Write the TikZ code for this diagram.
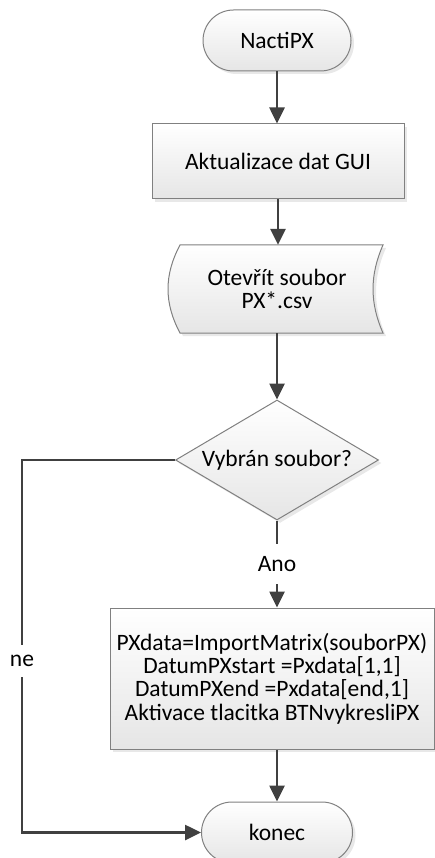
\documentclass[tikz,border=0pt]{standalone}
\usepackage{fontspec}
\setmainfont{Carlito}
\usetikzlibrary{shapes.geometric,shapes.misc,shadows,arrows.meta}
\begin{document}
\begin{tikzpicture}[x=1pt,y=-1pt,
  shp/.style={draw=black!50, line width=1pt, top color=white, bottom color=black!10,
    drop shadow={shadow xshift=3pt, shadow yshift=-3pt, fill=black!18}},
  txt/.style={font=\fontsize{23.5}{23.3}\selectfont, align=center, inner sep=0pt, text=black},
  term/.style={shp, txt, rounded rectangle, minimum width=148pt, minimum height=61pt},
  proc/.style={shp, txt, rectangle},
  dec/.style={shp, txt, diamond, aspect=1.69, minimum width=203pt, minimum height=120pt},
  flow/.style={draw=black!75, line width=2.6pt, -{Triangle[width=15pt,length=16pt]}},
  lbl/.style={fill=white, txt, inner xsep=2pt}
]
\useasboundingbox (0,0) rectangle (435,858);

\node[term] (start) at (277,40.5) {NactiPX};
\node[proc, minimum width=252pt, minimum height=75pt] (upd) at (278,161.5) {Aktualizace dat GUI};

\path[shp] (180,245) -- (383,245) .. controls (369.7,275) and (369.7,303) .. (383,333)
  -- (180,333) .. controls (164,303) and (164,275) .. (180,245) -- cycle;
\node[txt, minimum width=215pt, minimum height=88pt] (open) at (277,289) {Otevřít soubor\\PX*.csv};

\node[dec] (dec) at (277,460) {Vybrán soubor?};
\node[proc, minimum width=324pt, minimum height=141pt] (work) at (272,678.5)
  {PXdata=ImportMatrix(souborPX)\\DatumPXstart =Pxdata[1,1]\\DatumPXend =Pxdata[end,1]\\Aktivace tlacitka BTNvykresliPX};
\node[term, minimum width=151pt] (end) at (277,832.5) {konec};

\coordinate (nl) at (22,460);

\draw[flow] (start.south) -- (start.south |- upd.north);
\draw[flow] (upd.south) -- (upd.south |- open.north);
\draw[flow] (open.south) -- (dec.north);
\draw[flow] (dec.south) -- node[lbl, minimum height=40pt] {Ano} (dec.south |- work.north);
\draw[flow] (work.south -| end.north) -- (end.north);
\draw[flow] (dec.west) -- (nl) |- node[lbl, pos=0.27, minimum height=32pt] {ne} (end.west);
\end{tikzpicture}
\end{document}
